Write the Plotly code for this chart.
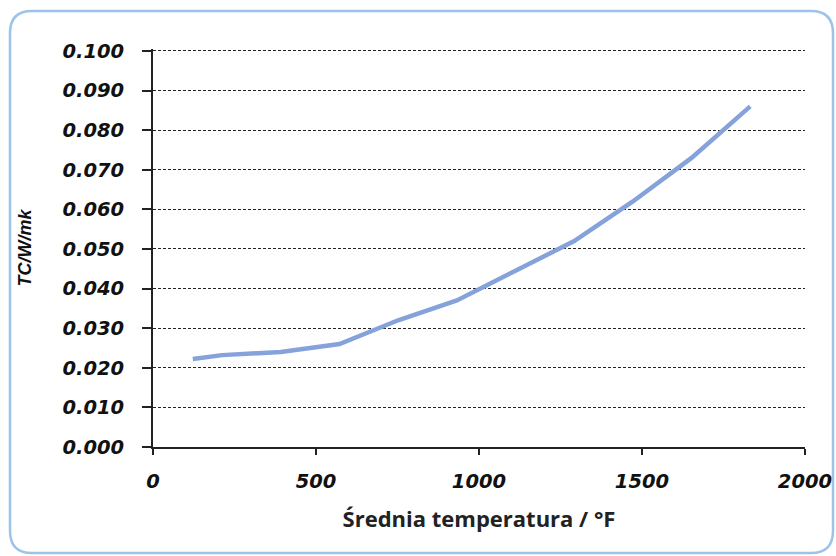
import plotly.graph_objects as go

temps_f = [122, 212, 392, 572, 752, 932, 1112, 1292, 1472, 1652, 1832]
tc_values = [0.0222, 0.0232, 0.0240, 0.0260, 0.0320, 0.0370, 0.0445, 0.0520, 0.0620, 0.0730, 0.0860]
y_ticks = [0.0, 0.01, 0.02, 0.03, 0.04, 0.05, 0.06, 0.07, 0.08, 0.09, 0.10]
x_ticks = [0, 500, 1000, 1500, 2000]
x_title = "Średnia temperatura / °F"
y_title = "TC/W/mk"

W, H = 836, 556
L, R, T, B = 153, 31, 49, 109
pw, ph = W - L - R, H - T - B

fig = go.Figure()
fig.add_trace(go.Scatter(x=temps_f, y=tc_values, mode="lines",
                         line=dict(color="#86a2db", width=4.5), showlegend=False,
                         hoverinfo="x+y"))

tick_font = dict(family="DejaVu Sans", size=19.5, color="#111111",
                 weight="bold", style="italic")

fig.update_layout(
    width=W, height=H, autosize=False,
    margin=dict(l=L, r=R, t=T, b=B, pad=0, autoexpand=False),
    paper_bgcolor="white", plot_bgcolor="white",
    xaxis=dict(range=[0, 2000], tickvals=x_ticks, ticktext=[str(v) for v in x_ticks],
               automargin=False,
               showgrid=False, zeroline=False, showline=True, linecolor="#222222",
               linewidth=2, ticks="outside", ticklen=6, tickwidth=1.5, tickcolor="#222222",
               tickfont=tick_font, ticklabelstandoff=10,
               title=dict(text=x_title, standoff=19,
                          font=dict(family="Open Sans", size=22,
                                    color="#222222", weight="bold"))),
    yaxis=dict(range=[0, 0.1005], tickvals=y_ticks, ticktext=[f"{v:.3f}" for v in y_ticks],
               automargin=False,
               showgrid=True, gridcolor="#222222", gridwidth=1, griddash="3px,2px",
               zeroline=False, showline=True, linecolor="#222222", linewidth=2,
               ticks="outside", ticklen=9, tickwidth=1.5, tickcolor="#222222",
               tickfont=tick_font, ticklabelstandoff=14,
               title=dict(text=y_title, standoff=26,
                          font=dict(family="Liberation Sans, Arial", size=18,
                                    color="#111111", weight="bold", style="italic"))),
)

# rounded frame around the whole chart (paper coordinates of the plot area)
def px_to_paper_x(px):
    return (px - L) / pw

def px_to_paper_y(py):
    return (H - B - py) / ph

x0, x1 = px_to_paper_x(10), px_to_paper_x(833)
y0, y1 = px_to_paper_y(553), px_to_paper_y(11)
rx, ry = 22 / pw, 22 / ph
path = (f"M {x0+rx},{y1} L {x1-rx},{y1} Q {x1},{y1} {x1},{y1-ry} "
        f"L {x1},{y0+ry} Q {x1},{y0} {x1-rx},{y0} L {x0+rx},{y0} "
        f"Q {x0},{y0} {x0},{y0+ry} L {x0},{y1-ry} Q {x0},{y1} {x0+rx},{y1} Z")
fig.add_shape(type="path", path=path, xref="paper", yref="paper",
              line=dict(color="#9dc3ea", width=2.5), fillcolor="rgba(0,0,0,0)", layer="below")

fig.write_html("out.html", config={"displayModeBar": False},
               post_script="document.body.style.margin='0';")
